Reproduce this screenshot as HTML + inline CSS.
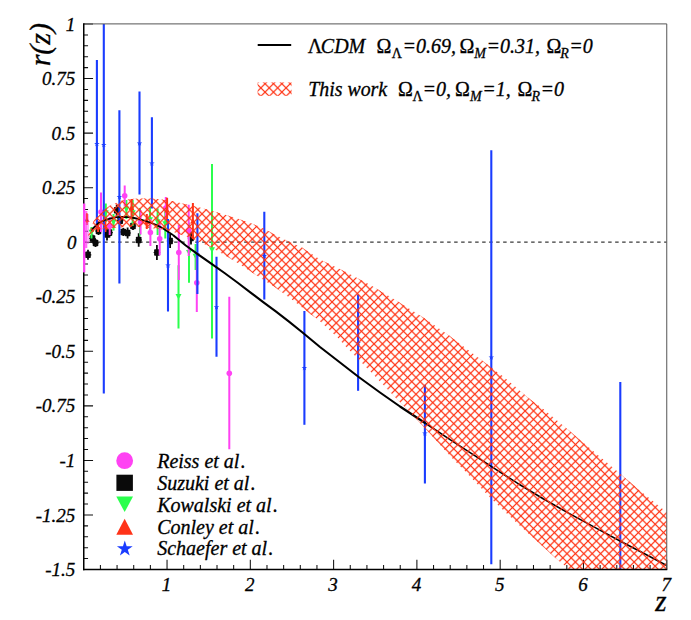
<!DOCTYPE html><html><head><meta charset="utf-8"><title>r(z)</title><style>html,body{margin:0;padding:0;background:#fff}svg{display:block}text{font-family:"Liberation Serif",serif;font-style:italic;fill:#000;stroke:#000;stroke-width:0.3px}.u{font-style:normal}</style></head><body>
<svg width="691" height="620" viewBox="0 0 691 620">
<rect width="691" height="620" fill="#fff"/>
<clipPath id="fr"><rect x="83.75" y="23.9" width="583.0" height="545.6"/></clipPath>
<g clip-path="url(#fr)">
<line x1="83.75" y1="242.2" x2="666.75" y2="242.2" stroke="#3a3a3a" stroke-width="1.3" stroke-dasharray="3.5 3.5" stroke-dashoffset="0.6"/>
<line x1="88" y1="249.8" x2="88" y2="259.8" stroke="#0a0a0a" stroke-width="1.8"/>
<line x1="84.7" y1="254.8" x2="91.3" y2="254.8" stroke="#0a0a0a" stroke-width="1.2"/>
<rect x="85.2" y="251.5" width="5.6" height="6.6" rx="0.8" fill="#0a0a0a"/>
<line x1="92.5" y1="234.5" x2="92.5" y2="242.5" stroke="#0a0a0a" stroke-width="1.8"/>
<line x1="89.2" y1="238.5" x2="95.8" y2="238.5" stroke="#0a0a0a" stroke-width="1.2"/>
<rect x="89.7" y="235.2" width="5.6" height="6.6" rx="0.8" fill="#0a0a0a"/>
<line x1="95.5" y1="239" x2="95.5" y2="247" stroke="#0a0a0a" stroke-width="1.8"/>
<line x1="92.2" y1="243" x2="98.8" y2="243" stroke="#0a0a0a" stroke-width="1.2"/>
<rect x="92.7" y="239.7" width="5.6" height="6.6" rx="0.8" fill="#0a0a0a"/>
<line x1="98.5" y1="227" x2="98.5" y2="235" stroke="#0a0a0a" stroke-width="1.8"/>
<line x1="95.2" y1="231" x2="101.8" y2="231" stroke="#0a0a0a" stroke-width="1.2"/>
<rect x="95.7" y="227.7" width="5.6" height="6.6" rx="0.8" fill="#0a0a0a"/>
<line x1="107" y1="228.5" x2="107" y2="240.5" stroke="#0a0a0a" stroke-width="1.8"/>
<line x1="103.7" y1="234.5" x2="110.3" y2="234.5" stroke="#0a0a0a" stroke-width="1.2"/>
<rect x="104.2" y="231.2" width="5.6" height="6.6" rx="0.8" fill="#0a0a0a"/>
<line x1="109.5" y1="227.6" x2="109.5" y2="237.6" stroke="#0a0a0a" stroke-width="1.8"/>
<line x1="106.2" y1="232.6" x2="112.8" y2="232.6" stroke="#0a0a0a" stroke-width="1.2"/>
<rect x="106.7" y="229.29999999999998" width="5.6" height="6.6" rx="0.8" fill="#0a0a0a"/>
<line x1="116.7" y1="204.8" x2="116.7" y2="215.8" stroke="#0a0a0a" stroke-width="1.8"/>
<line x1="113.4" y1="210.3" x2="120.0" y2="210.3" stroke="#0a0a0a" stroke-width="1.2"/>
<rect x="113.9" y="207.0" width="5.6" height="6.6" rx="0.8" fill="#0a0a0a"/>
<line x1="120.2" y1="216.7" x2="120.2" y2="224.7" stroke="#0a0a0a" stroke-width="1.8"/>
<line x1="116.9" y1="220.7" x2="123.5" y2="220.7" stroke="#0a0a0a" stroke-width="1.2"/>
<rect x="117.4" y="217.39999999999998" width="5.6" height="6.6" rx="0.8" fill="#0a0a0a"/>
<line x1="123.3" y1="228" x2="123.3" y2="236" stroke="#0a0a0a" stroke-width="1.8"/>
<line x1="120.0" y1="232" x2="126.6" y2="232" stroke="#0a0a0a" stroke-width="1.2"/>
<rect x="120.5" y="228.7" width="5.6" height="6.6" rx="0.8" fill="#0a0a0a"/>
<line x1="127.6" y1="227.5" x2="127.6" y2="238.5" stroke="#0a0a0a" stroke-width="1.8"/>
<line x1="124.3" y1="233" x2="130.9" y2="233" stroke="#0a0a0a" stroke-width="1.2"/>
<rect x="124.8" y="229.7" width="5.6" height="6.6" rx="0.8" fill="#0a0a0a"/>
<line x1="133" y1="222" x2="133" y2="230" stroke="#0a0a0a" stroke-width="1.8"/>
<line x1="129.7" y1="226" x2="136.3" y2="226" stroke="#0a0a0a" stroke-width="1.2"/>
<rect x="130.2" y="222.7" width="5.6" height="6.6" rx="0.8" fill="#0a0a0a"/>
<line x1="138.7" y1="233.3" x2="138.7" y2="246.7" stroke="#0a0a0a" stroke-width="1.8"/>
<line x1="135.39999999999998" y1="240" x2="142.0" y2="240" stroke="#0a0a0a" stroke-width="1.2"/>
<rect x="135.89999999999998" y="236.7" width="5.6" height="6.6" rx="0.8" fill="#0a0a0a"/>
<line x1="156.9" y1="245.0" x2="156.9" y2="260.0" stroke="#0a0a0a" stroke-width="1.8"/>
<line x1="153.6" y1="252.5" x2="160.20000000000002" y2="252.5" stroke="#0a0a0a" stroke-width="1.2"/>
<rect x="154.1" y="249.2" width="5.6" height="6.6" rx="0.8" fill="#0a0a0a"/>
<line x1="170.1" y1="234" x2="170.1" y2="248" stroke="#0a0a0a" stroke-width="1.8"/>
<line x1="166.79999999999998" y1="241" x2="173.4" y2="241" stroke="#0a0a0a" stroke-width="1.2"/>
<rect x="167.29999999999998" y="237.7" width="5.6" height="6.6" rx="0.8" fill="#0a0a0a"/>
<line x1="191" y1="231.5" x2="191" y2="244.5" stroke="#0a0a0a" stroke-width="1.8"/>
<line x1="187.7" y1="238" x2="194.3" y2="238" stroke="#0a0a0a" stroke-width="1.2"/>
<rect x="188.2" y="234.7" width="5.6" height="6.6" rx="0.8" fill="#0a0a0a"/>
<line x1="212" y1="164" x2="212" y2="338.5" stroke="#2bff4d" stroke-width="2.0"/>
<polygon points="209.0,247.3 215.0,247.3 212,252.7" fill="#2bff4d"/>
<line x1="178.5" y1="265.2" x2="178.5" y2="328.4" stroke="#2bff4d" stroke-width="2.0"/>
<polygon points="175.5,294.1 181.5,294.1 178.5,299.5" fill="#2bff4d"/>
<line x1="189" y1="222.5" x2="189" y2="282.7" stroke="#2bff4d" stroke-width="2.0"/>
<polygon points="186.0,249.9 192.0,249.9 189,255.29999999999998" fill="#2bff4d"/>
<line x1="195.6" y1="244" x2="195.6" y2="270" stroke="#2bff4d" stroke-width="2.0"/>
<polygon points="192.6,253.8 198.6,253.8 195.6,259.2" fill="#2bff4d"/>
<line x1="91.5" y1="227" x2="91.5" y2="238.5" stroke="#2bff4d" stroke-width="2.0"/>
<polygon points="88.5,229.8 94.5,229.8 91.5,235.2" fill="#2bff4d"/>
<line x1="105.8" y1="203.5" x2="105.8" y2="222" stroke="#2bff4d" stroke-width="2.0"/>
<polygon points="102.8,210.3 108.8,210.3 105.8,215.7" fill="#2bff4d"/>
<line x1="113.5" y1="214" x2="113.5" y2="230.5" stroke="#2bff4d" stroke-width="2.0"/>
<polygon points="110.5,219.70000000000002 116.5,219.70000000000002 113.5,225.1" fill="#2bff4d"/>
<line x1="126.4" y1="200" x2="126.4" y2="219" stroke="#2bff4d" stroke-width="2.0"/>
<polygon points="123.4,206.8 129.4,206.8 126.4,212.2" fill="#2bff4d"/>
<line x1="132.7" y1="200" x2="132.7" y2="226" stroke="#2bff4d" stroke-width="2.0"/>
<polygon points="129.7,210.3 135.7,210.3 132.7,215.7" fill="#2bff4d"/>
<line x1="140" y1="208" x2="140" y2="235.6" stroke="#2bff4d" stroke-width="2.0"/>
<polygon points="137.0,219.3 143.0,219.3 140,224.7" fill="#2bff4d"/>
<line x1="150" y1="207" x2="150" y2="234" stroke="#2bff4d" stroke-width="2.0"/>
<polygon points="147.0,217.3 153.0,217.3 150,222.7" fill="#2bff4d"/>
<line x1="157.6" y1="208.4" x2="157.6" y2="235" stroke="#2bff4d" stroke-width="2.0"/>
<polygon points="154.6,219.3 160.6,219.3 157.6,224.7" fill="#2bff4d"/>
<line x1="165.3" y1="210" x2="165.3" y2="238.4" stroke="#2bff4d" stroke-width="2.0"/>
<polygon points="162.3,221.3 168.3,221.3 165.3,226.7" fill="#2bff4d"/>
<line x1="229.3" y1="296.8" x2="229.3" y2="449.3" stroke="#ff42f3" stroke-width="2.0"/>
<circle cx="229.3" cy="373.3" r="2.8" fill="#ff42f3"/>
<line x1="196.8" y1="253.3" x2="196.8" y2="312.1" stroke="#ff42f3" stroke-width="2.0"/>
<circle cx="196.8" cy="282.7" r="2.8" fill="#ff42f3"/>
<line x1="178.8" y1="224.8" x2="178.8" y2="280" stroke="#ff42f3" stroke-width="2.0"/>
<circle cx="178.8" cy="252.5" r="2.8" fill="#ff42f3"/>
<line x1="188.7" y1="204.8" x2="188.7" y2="256" stroke="#ff42f3" stroke-width="2.0"/>
<circle cx="188.7" cy="230.6" r="2.8" fill="#ff42f3"/>
<line x1="159.7" y1="222" x2="159.7" y2="255.3" stroke="#ff42f3" stroke-width="2.0"/>
<circle cx="159.7" cy="238.8" r="2.8" fill="#ff42f3"/>
<line x1="150.4" y1="219" x2="150.4" y2="246" stroke="#ff42f3" stroke-width="2.0"/>
<circle cx="150.4" cy="232.5" r="2.8" fill="#ff42f3"/>
<line x1="140.6" y1="210" x2="140.6" y2="234.4" stroke="#ff42f3" stroke-width="2.0"/>
<circle cx="140.6" cy="222.3" r="2.8" fill="#ff42f3"/>
<line x1="124.7" y1="185.5" x2="124.7" y2="206" stroke="#ff42f3" stroke-width="2.0"/>
<circle cx="124.7" cy="195.7" r="2.8" fill="#ff42f3"/>
<line x1="109.7" y1="217" x2="109.7" y2="235" stroke="#ff42f3" stroke-width="2.0"/>
<circle cx="109.7" cy="226" r="2.8" fill="#ff42f3"/>
<line x1="101" y1="192.6" x2="101" y2="232" stroke="#ff42f3" stroke-width="2.0"/>
<circle cx="101" cy="212" r="2.8" fill="#ff42f3"/>
<line x1="165.8" y1="197" x2="165.8" y2="219.7" stroke="#ff42f3" stroke-width="2.0"/>
<circle cx="165.8" cy="208" r="2.8" fill="#ff42f3"/>
<line x1="167.1" y1="197.7" x2="167.1" y2="222" stroke="#ff3318" stroke-width="2.0"/>
<polygon points="164.29999999999998,212.52 169.9,212.52 167.1,207.48" fill="#ff3318"/>
<line x1="192.9" y1="202.9" x2="192.9" y2="239" stroke="#ff3318" stroke-width="2.0"/>
<polygon points="190.1,223.52 195.70000000000002,223.52 192.9,218.48" fill="#ff3318"/>
<line x1="131.5" y1="199" x2="131.5" y2="216.5" stroke="#ff3318" stroke-width="2.0"/>
<polygon points="128.7,210.02 134.3,210.02 131.5,204.98" fill="#ff3318"/>
<line x1="146.8" y1="214" x2="146.8" y2="229" stroke="#ff3318" stroke-width="2.0"/>
<polygon points="144.0,224.02 149.60000000000002,224.02 146.8,218.98" fill="#ff3318"/>
<line x1="98.1" y1="221" x2="98.1" y2="232" stroke="#ff3318" stroke-width="2.0"/>
<polygon points="95.3,229.52 100.89999999999999,229.52 98.1,224.48" fill="#ff3318"/>
<line x1="105.4" y1="221" x2="105.4" y2="232" stroke="#ff3318" stroke-width="2.0"/>
<polygon points="102.60000000000001,229.52 108.2,229.52 105.4,224.48" fill="#ff3318"/>
<line x1="86.8" y1="214" x2="86.8" y2="225" stroke="#ff3318" stroke-width="2.0"/>
<polygon points="84.0,222.02 89.6,222.02 86.8,216.98" fill="#ff3318"/>
<line x1="96.9" y1="59.9" x2="96.9" y2="228" stroke="#1a3cff" stroke-width="2.1"/>
<polygon points="96.90,141.00 97.55,143.00 99.66,143.00 97.95,144.24 98.60,146.25 96.90,145.01 95.20,146.25 95.85,144.24 94.14,143.00 96.25,143.00" fill="#1a3cff"/>
<line x1="103.8" y1="23.9" x2="103.8" y2="393.4" stroke="#1a3cff" stroke-width="2.1"/>
<polygon points="103.80,141.90 104.45,143.90 106.56,143.90 104.85,145.14 105.50,147.15 103.80,145.91 102.10,147.15 102.75,145.14 101.04,143.90 103.15,143.90" fill="#1a3cff"/>
<line x1="119.4" y1="110.2" x2="119.4" y2="283.4" stroke="#1a3cff" stroke-width="2.1"/>
<polygon points="119.40,194.10 120.05,196.10 122.16,196.10 120.45,197.34 121.10,199.35 119.40,198.11 117.70,199.35 118.35,197.34 116.64,196.10 118.75,196.10" fill="#1a3cff"/>
<line x1="139.5" y1="91.6" x2="139.5" y2="194.6" stroke="#1a3cff" stroke-width="2.1"/>
<polygon points="139.50,140.60 140.15,142.60 142.26,142.60 140.55,143.84 141.20,145.85 139.50,144.61 137.80,145.85 138.45,143.84 136.74,142.60 138.85,142.60" fill="#1a3cff"/>
<line x1="151.9" y1="117.3" x2="151.9" y2="208.4" stroke="#1a3cff" stroke-width="2.1"/>
<polygon points="151.90,160.40 152.55,162.40 154.66,162.40 152.95,163.64 153.60,165.65 151.90,164.41 150.20,165.65 150.85,163.64 149.14,162.40 151.25,162.40" fill="#1a3cff"/>
<line x1="168" y1="219" x2="168" y2="311.6" stroke="#1a3cff" stroke-width="2.1"/>
<polygon points="168.00,262.60 168.65,264.60 170.76,264.60 169.05,265.84 169.70,267.85 168.00,266.61 166.30,267.85 166.95,265.84 165.24,264.60 167.35,264.60" fill="#1a3cff"/>
<line x1="197.4" y1="213.2" x2="197.4" y2="293.9" stroke="#1a3cff" stroke-width="2.1"/>
<polygon points="197.40,251.60 198.05,253.60 200.16,253.60 198.45,254.84 199.10,256.85 197.40,255.61 195.70,256.85 196.35,254.84 194.64,253.60 196.75,253.60" fill="#1a3cff"/>
<line x1="216.5" y1="256.8" x2="216.5" y2="356.8" stroke="#1a3cff" stroke-width="2.1"/>
<polygon points="216.50,304.30 217.15,306.30 219.26,306.30 217.55,307.54 218.20,309.55 216.50,308.31 214.80,309.55 215.45,307.54 213.74,306.30 215.85,306.30" fill="#1a3cff"/>
<line x1="264.3" y1="211.7" x2="264.3" y2="299.5" stroke="#1a3cff" stroke-width="2.1"/>
<polygon points="264.30,253.10 264.95,255.10 267.06,255.10 265.35,256.34 266.00,258.35 264.30,257.11 262.60,258.35 263.25,256.34 261.54,255.10 263.65,255.10" fill="#1a3cff"/>
<line x1="304.4" y1="311" x2="304.4" y2="424.8" stroke="#1a3cff" stroke-width="2.1"/>
<polygon points="304.40,364.90 305.05,366.90 307.16,366.90 305.45,368.14 306.10,370.15 304.40,368.91 302.70,370.15 303.35,368.14 301.64,366.90 303.75,366.90" fill="#1a3cff"/>
<line x1="358.1" y1="294.5" x2="358.1" y2="390.8" stroke="#1a3cff" stroke-width="2.1"/>
<polygon points="358.10,340.10 358.75,342.10 360.86,342.10 359.15,343.34 359.80,345.35 358.10,344.11 356.40,345.35 357.05,343.34 355.34,342.10 357.45,342.10" fill="#1a3cff"/>
<line x1="424.9" y1="384.8" x2="424.9" y2="483.5" stroke="#1a3cff" stroke-width="2.1"/>
<polygon points="424.90,430.60 425.55,432.60 427.66,432.60 425.95,433.84 426.60,435.85 424.90,434.61 423.20,435.85 423.85,433.84 422.14,432.60 424.25,432.60" fill="#1a3cff"/>
<line x1="491.3" y1="150.2" x2="491.3" y2="564.3" stroke="#1a3cff" stroke-width="2.1"/>
<polygon points="491.30,354.40 491.95,356.40 494.06,356.40 492.35,357.64 493.00,359.65 491.30,358.41 489.60,359.65 490.25,357.64 488.54,356.40 490.65,356.40" fill="#1a3cff"/>
<line x1="620.3" y1="381.9" x2="620.3" y2="600" stroke="#1a3cff" stroke-width="2.1"/>
<polygon points="620.30,697.10 620.95,699.10 623.06,699.10 621.35,700.34 622.00,702.35 620.30,701.11 618.60,702.35 619.25,700.34 617.54,699.10 619.65,699.10" fill="#1a3cff"/>
<path d="M91.2,230.5 L92.5,229 L98.1,223.3 L105.1,220 L110.9,218.3 L116.7,217.2 L122.5,216.8 L128.3,217.1 L134.1,218 L139.9,219.3 L145.7,221 L151.4,223 L157.2,225.4 L162,227.8 L172.9,235" fill="none" stroke="#000" stroke-width="1.8" stroke-linejoin="round"/>
<path d="M172.9,235 L185.8,245.5 L198.7,254.8 L211.6,263.9 L224.5,273 L237.4,282.5 L250.3,292.3 L263.2,302.1 L276.1,311.7 L289,321.7 L301.9,332 L320,347 L340,362.5 L358.7,377 L380,392.5 L400,406.5 L425.8,423.5" fill="none" stroke="#000" stroke-width="2.1" stroke-linejoin="round"/>
<path d="M425.8,423.5 L451.6,440.6 L477.4,457.3 L491.6,466.6 L517.4,483.2 L543.2,498.8 L569,513.4 L594.8,527.4 L620,541 L645,554 L666.75,565.5" fill="none" stroke="#000" stroke-width="1.6" stroke-linejoin="round"/>
</g>
<path d="M83.75,24.00h9.3M83.75,34.91h4.3M83.75,45.82h4.3M83.75,56.73h4.3M83.75,67.64h4.3M83.75,78.55h9.3M83.75,89.46h4.3M83.75,100.37h4.3M83.75,111.28h4.3M83.75,122.19h4.3M83.75,133.10h9.3M83.75,144.01h4.3M83.75,154.92h4.3M83.75,165.83h4.3M83.75,176.74h4.3M83.75,187.65h9.3M83.75,198.56h4.3M83.75,209.47h4.3M83.75,220.38h4.3M83.75,231.29h4.3M83.75,242.20h9.3M83.75,253.11h4.3M83.75,264.02h4.3M83.75,274.93h4.3M83.75,285.84h4.3M83.75,296.75h9.3M83.75,307.66h4.3M83.75,318.57h4.3M83.75,329.48h4.3M83.75,340.39h4.3M83.75,351.30h9.3M83.75,362.21h4.3M83.75,373.12h4.3M83.75,384.03h4.3M83.75,394.94h4.3M83.75,405.85h9.3M83.75,416.76h4.3M83.75,427.67h4.3M83.75,438.58h4.3M83.75,449.49h4.3M83.75,460.40h9.3M83.75,471.31h4.3M83.75,482.22h4.3M83.75,493.13h4.3M83.75,504.04h4.3M83.75,514.95h9.3M83.75,525.86h4.3M83.75,536.77h4.3M83.75,547.68h4.3M83.75,558.59h4.3M83.75,569.50h9.3M100.41,569.5v-4.4M117.06,569.5v-4.4M133.72,569.5v-4.4M150.38,569.5v-4.4M167.04,569.5v-9.8M183.69,569.5v-4.4M200.35,569.5v-4.4M217.01,569.5v-4.4M233.66,569.5v-4.4M250.32,569.5v-9.8M266.98,569.5v-4.4M283.64,569.5v-4.4M300.29,569.5v-4.4M316.95,569.5v-4.4M333.61,569.5v-9.8M350.26,569.5v-4.4M366.92,569.5v-4.4M383.58,569.5v-4.4M400.24,569.5v-4.4M416.89,569.5v-9.8M433.55,569.5v-4.4M450.21,569.5v-4.4M466.86,569.5v-4.4M483.52,569.5v-4.4M500.18,569.5v-9.8M516.84,569.5v-4.4M533.49,569.5v-4.4M550.15,569.5v-4.4M566.81,569.5v-4.4M583.46,569.5v-9.8M600.12,569.5v-4.4M616.78,569.5v-4.4M633.44,569.5v-4.4M650.09,569.5v-4.4M666.75,569.5v-9.8" stroke="#111" stroke-width="1.05" fill="none"/>
<clipPath id="band"><polygon points="88,236 90.5,229 94.1,220 98.1,216 102.2,211.9 106.2,208.3 110.2,205.5 115.9,203 122.3,200.6 130.5,199 139.9,198.5 151.4,198.5 160,199.3 172.9,201.2 185.8,204.3 198.7,207.3 211.6,210.7 224.5,214.4 237.4,218.5 250.3,223 263.2,228.3 276.1,235.3 289,241.8 301.9,247.5 320,259.5 345.8,272 371.6,285.8 397.4,301.3 423.2,317.5 449,335.5 477.4,357.0 503.2,376.4 529,398.4 543.2,409.0 569,430.5 594.8,452.6 607.7,463.2 641.6,492 666.75,512.3 666.75,569.5 569.5,569.5 556.1,558.4 543.2,546.8 517.4,523.5 491.6,499 465.8,472 451.6,457.4 438.7,443.3 425.8,429 410.3,412.6 397.4,399.4 384.5,386 371.6,372.8 358.7,359.6 345.8,346.5 338.1,338 328.4,329 318.7,320 309,313 301.9,307.3 289,297.2 276.1,288 263.2,279.6 250.3,271.3 237.4,262.8 224.5,255 211.6,247.5 198.7,241.5 185.8,236.2 172.9,231.7 160,229 150,228 140,227 130.4,227 122.3,227.3 114.3,228 106.2,228.5 98.1,229 94.1,231 91,234 88,236"/></clipPath>
<g clip-path="url(#fr)"><g clip-path="url(#band)"><path d="M78.75,-573.00L671.75,20.00M78.75,-564.60L671.75,28.40M78.75,-556.20L671.75,36.80M78.75,-547.80L671.75,45.20M78.75,-539.40L671.75,53.60M78.75,-531.00L671.75,62.00M78.75,-522.60L671.75,70.40M78.75,-514.20L671.75,78.80M78.75,-505.80L671.75,87.20M78.75,-497.40L671.75,95.60M78.75,-489.00L671.75,104.00M78.75,-480.60L671.75,112.40M78.75,-472.20L671.75,120.80M78.75,-463.80L671.75,129.20M78.75,-455.40L671.75,137.60M78.75,-447.00L671.75,146.00M78.75,-438.60L671.75,154.40M78.75,-430.20L671.75,162.80M78.75,-421.80L671.75,171.20M78.75,-413.40L671.75,179.60M78.75,-405.00L671.75,188.00M78.75,-396.60L671.75,196.40M78.75,-388.20L671.75,204.80M78.75,-379.80L671.75,213.20M78.75,-371.40L671.75,221.60M78.75,-363.00L671.75,230.00M78.75,-354.60L671.75,238.40M78.75,-346.20L671.75,246.80M78.75,-337.80L671.75,255.20M78.75,-329.40L671.75,263.60M78.75,-321.00L671.75,272.00M78.75,-312.60L671.75,280.40M78.75,-304.20L671.75,288.80M78.75,-295.80L671.75,297.20M78.75,-287.40L671.75,305.60M78.75,-279.00L671.75,314.00M78.75,-270.60L671.75,322.40M78.75,-262.20L671.75,330.80M78.75,-253.80L671.75,339.20M78.75,-245.40L671.75,347.60M78.75,-237.00L671.75,356.00M78.75,-228.60L671.75,364.40M78.75,-220.20L671.75,372.80M78.75,-211.80L671.75,381.20M78.75,-203.40L671.75,389.60M78.75,-195.00L671.75,398.00M78.75,-186.60L671.75,406.40M78.75,-178.20L671.75,414.80M78.75,-169.80L671.75,423.20M78.75,-161.40L671.75,431.60M78.75,-153.00L671.75,440.00M78.75,-144.60L671.75,448.40M78.75,-136.20L671.75,456.80M78.75,-127.80L671.75,465.20M78.75,-119.40L671.75,473.60M78.75,-111.00L671.75,482.00M78.75,-102.60L671.75,490.40M78.75,-94.20L671.75,498.80M78.75,-85.80L671.75,507.20M78.75,-77.40L671.75,515.60M78.75,-69.00L671.75,524.00M78.75,-60.60L671.75,532.40M78.75,-52.20L671.75,540.80M78.75,-43.80L671.75,549.20M78.75,-35.40L671.75,557.60M78.75,-27.00L671.75,566.00M78.75,-18.60L671.75,574.40M78.75,-10.20L671.75,582.80M78.75,-1.80L671.75,591.20M78.75,6.60L671.75,599.60M78.75,15.00L671.75,608.00M78.75,23.40L671.75,616.40M78.75,31.80L671.75,624.80M78.75,40.20L671.75,633.20M78.75,48.60L671.75,641.60M78.75,57.00L671.75,650.00M78.75,65.40L671.75,658.40M78.75,73.80L671.75,666.80M78.75,82.20L671.75,675.20M78.75,90.60L671.75,683.60M78.75,99.00L671.75,692.00M78.75,107.40L671.75,700.40M78.75,115.80L671.75,708.80M78.75,124.20L671.75,717.20M78.75,132.60L671.75,725.60M78.75,141.00L671.75,734.00M78.75,149.40L671.75,742.40M78.75,157.80L671.75,750.80M78.75,166.20L671.75,759.20M78.75,174.60L671.75,767.60M78.75,183.00L671.75,776.00M78.75,191.40L671.75,784.40M78.75,199.80L671.75,792.80M78.75,208.20L671.75,801.20M78.75,216.60L671.75,809.60M78.75,225.00L671.75,818.00M78.75,233.40L671.75,826.40M78.75,241.80L671.75,834.80M78.75,250.20L671.75,843.20M78.75,258.60L671.75,851.60M78.75,267.00L671.75,860.00M78.75,275.40L671.75,868.40M78.75,283.80L671.75,876.80M78.75,292.20L671.75,885.20M78.75,300.60L671.75,893.60M78.75,309.00L671.75,902.00M78.75,317.40L671.75,910.40M78.75,325.80L671.75,918.80M78.75,334.20L671.75,927.20M78.75,342.60L671.75,935.60M78.75,351.00L671.75,944.00M78.75,359.40L671.75,952.40M78.75,367.80L671.75,960.80M78.75,376.20L671.75,969.20M78.75,384.60L671.75,977.60M78.75,393.00L671.75,986.00M78.75,401.40L671.75,994.40M78.75,409.80L671.75,1002.80M78.75,418.20L671.75,1011.20M78.75,426.60L671.75,1019.60M78.75,435.00L671.75,1028.00M78.75,443.40L671.75,1036.40M78.75,451.80L671.75,1044.80M78.75,460.20L671.75,1053.20M78.75,468.60L671.75,1061.60M78.75,477.00L671.75,1070.00M78.75,485.40L671.75,1078.40M78.75,493.80L671.75,1086.80M78.75,502.20L671.75,1095.20M78.75,510.60L671.75,1103.60M78.75,519.00L671.75,1112.00M78.75,527.40L671.75,1120.40M78.75,535.80L671.75,1128.80M78.75,544.20L671.75,1137.20M78.75,552.60L671.75,1145.60M78.75,561.00L671.75,1154.00M78.75,569.40L671.75,1162.40M78.75,577.80L671.75,1170.80M78.75,586.20L671.75,1179.20" fill="none" stroke="#ff3010" stroke-width="1.9" stroke-opacity="0.42"/><path d="M78.75,9.93L671.75,-583.07M78.75,18.32L671.75,-574.68M78.75,26.71L671.75,-566.29M78.75,35.10L671.75,-557.90M78.75,43.49L671.75,-549.51M78.75,51.88L671.75,-541.12M78.75,60.27L671.75,-532.73M78.75,68.66L671.75,-524.34M78.75,77.05L671.75,-515.95M78.75,85.44L671.75,-507.56M78.75,93.83L671.75,-499.17M78.75,102.22L671.75,-490.78M78.75,110.61L671.75,-482.39M78.75,119.00L671.75,-474.00M78.75,127.39L671.75,-465.61M78.75,135.78L671.75,-457.22M78.75,144.17L671.75,-448.83M78.75,152.56L671.75,-440.44M78.75,160.95L671.75,-432.05M78.75,169.34L671.75,-423.66M78.75,177.73L671.75,-415.27M78.75,186.12L671.75,-406.88M78.75,194.51L671.75,-398.49M78.75,202.90L671.75,-390.10M78.75,211.29L671.75,-381.71M78.75,219.68L671.75,-373.32M78.75,228.07L671.75,-364.93M78.75,236.46L671.75,-356.54M78.75,244.85L671.75,-348.15M78.75,253.24L671.75,-339.76M78.75,261.63L671.75,-331.37M78.75,270.02L671.75,-322.98M78.75,278.41L671.75,-314.59M78.75,286.80L671.75,-306.20M78.75,295.19L671.75,-297.81M78.75,303.58L671.75,-289.42M78.75,311.97L671.75,-281.03M78.75,320.36L671.75,-272.64M78.75,328.75L671.75,-264.25M78.75,337.14L671.75,-255.86M78.75,345.53L671.75,-247.47M78.75,353.92L671.75,-239.08M78.75,362.31L671.75,-230.69M78.75,370.70L671.75,-222.30M78.75,379.09L671.75,-213.91M78.75,387.48L671.75,-205.52M78.75,395.87L671.75,-197.13M78.75,404.26L671.75,-188.74M78.75,412.65L671.75,-180.35M78.75,421.04L671.75,-171.96M78.75,429.43L671.75,-163.57M78.75,437.82L671.75,-155.18M78.75,446.21L671.75,-146.79M78.75,454.60L671.75,-138.40M78.75,462.99L671.75,-130.01M78.75,471.38L671.75,-121.62M78.75,479.77L671.75,-113.23M78.75,488.16L671.75,-104.84M78.75,496.55L671.75,-96.45M78.75,504.94L671.75,-88.06M78.75,513.33L671.75,-79.67M78.75,521.72L671.75,-71.28M78.75,530.11L671.75,-62.89M78.75,538.50L671.75,-54.50M78.75,546.89L671.75,-46.11M78.75,555.28L671.75,-37.72M78.75,563.67L671.75,-29.33M78.75,572.06L671.75,-20.94M78.75,580.45L671.75,-12.55M78.75,588.84L671.75,-4.16M78.75,597.23L671.75,4.23M78.75,605.62L671.75,12.62M78.75,614.01L671.75,21.01M78.75,622.40L671.75,29.40M78.75,630.79L671.75,37.79M78.75,639.18L671.75,46.18M78.75,647.57L671.75,54.57M78.75,655.96L671.75,62.96M78.75,664.35L671.75,71.35M78.75,672.74L671.75,79.74M78.75,681.13L671.75,88.13M78.75,689.52L671.75,96.52M78.75,697.91L671.75,104.91M78.75,706.30L671.75,113.30M78.75,714.69L671.75,121.69M78.75,723.08L671.75,130.08M78.75,731.47L671.75,138.47M78.75,739.86L671.75,146.86M78.75,748.25L671.75,155.25M78.75,756.64L671.75,163.64M78.75,765.03L671.75,172.03M78.75,773.42L671.75,180.42M78.75,781.81L671.75,188.81M78.75,790.20L671.75,197.20M78.75,798.59L671.75,205.59M78.75,806.98L671.75,213.98M78.75,815.37L671.75,222.37M78.75,823.76L671.75,230.76M78.75,832.15L671.75,239.15M78.75,840.54L671.75,247.54M78.75,848.93L671.75,255.93M78.75,857.32L671.75,264.32M78.75,865.71L671.75,272.71M78.75,874.10L671.75,281.10M78.75,882.49L671.75,289.49M78.75,890.88L671.75,297.88M78.75,899.27L671.75,306.27M78.75,907.66L671.75,314.66M78.75,916.05L671.75,323.05M78.75,924.44L671.75,331.44M78.75,932.83L671.75,339.83M78.75,941.22L671.75,348.22M78.75,949.61L671.75,356.61M78.75,958.00L671.75,365.00M78.75,966.39L671.75,373.39M78.75,974.78L671.75,381.78M78.75,983.17L671.75,390.17M78.75,991.56L671.75,398.56M78.75,999.95L671.75,406.95M78.75,1008.34L671.75,415.34M78.75,1016.73L671.75,423.73M78.75,1025.12L671.75,432.12M78.75,1033.51L671.75,440.51M78.75,1041.90L671.75,448.90M78.75,1050.29L671.75,457.29M78.75,1058.68L671.75,465.68M78.75,1067.07L671.75,474.07M78.75,1075.46L671.75,482.46M78.75,1083.85L671.75,490.85M78.75,1092.24L671.75,499.24M78.75,1100.63L671.75,507.63M78.75,1109.02L671.75,516.02M78.75,1117.41L671.75,524.41M78.75,1125.80L671.75,532.80M78.75,1134.19L671.75,541.19M78.75,1142.58L671.75,549.58M78.75,1150.97L671.75,557.97M78.75,1159.36L671.75,566.36M78.75,1167.75L671.75,574.75M78.75,1176.14L671.75,583.14" fill="none" stroke="#ff3010" stroke-width="1.9" stroke-opacity="0.42"/><path d="M78.75,-573.00L671.75,20.00M78.75,-564.60L671.75,28.40M78.75,-556.20L671.75,36.80M78.75,-547.80L671.75,45.20M78.75,-539.40L671.75,53.60M78.75,-531.00L671.75,62.00M78.75,-522.60L671.75,70.40M78.75,-514.20L671.75,78.80M78.75,-505.80L671.75,87.20M78.75,-497.40L671.75,95.60M78.75,-489.00L671.75,104.00M78.75,-480.60L671.75,112.40M78.75,-472.20L671.75,120.80M78.75,-463.80L671.75,129.20M78.75,-455.40L671.75,137.60M78.75,-447.00L671.75,146.00M78.75,-438.60L671.75,154.40M78.75,-430.20L671.75,162.80M78.75,-421.80L671.75,171.20M78.75,-413.40L671.75,179.60M78.75,-405.00L671.75,188.00M78.75,-396.60L671.75,196.40M78.75,-388.20L671.75,204.80M78.75,-379.80L671.75,213.20M78.75,-371.40L671.75,221.60M78.75,-363.00L671.75,230.00M78.75,-354.60L671.75,238.40M78.75,-346.20L671.75,246.80M78.75,-337.80L671.75,255.20M78.75,-329.40L671.75,263.60M78.75,-321.00L671.75,272.00M78.75,-312.60L671.75,280.40M78.75,-304.20L671.75,288.80M78.75,-295.80L671.75,297.20M78.75,-287.40L671.75,305.60M78.75,-279.00L671.75,314.00M78.75,-270.60L671.75,322.40M78.75,-262.20L671.75,330.80M78.75,-253.80L671.75,339.20M78.75,-245.40L671.75,347.60M78.75,-237.00L671.75,356.00M78.75,-228.60L671.75,364.40M78.75,-220.20L671.75,372.80M78.75,-211.80L671.75,381.20M78.75,-203.40L671.75,389.60M78.75,-195.00L671.75,398.00M78.75,-186.60L671.75,406.40M78.75,-178.20L671.75,414.80M78.75,-169.80L671.75,423.20M78.75,-161.40L671.75,431.60M78.75,-153.00L671.75,440.00M78.75,-144.60L671.75,448.40M78.75,-136.20L671.75,456.80M78.75,-127.80L671.75,465.20M78.75,-119.40L671.75,473.60M78.75,-111.00L671.75,482.00M78.75,-102.60L671.75,490.40M78.75,-94.20L671.75,498.80M78.75,-85.80L671.75,507.20M78.75,-77.40L671.75,515.60M78.75,-69.00L671.75,524.00M78.75,-60.60L671.75,532.40M78.75,-52.20L671.75,540.80M78.75,-43.80L671.75,549.20M78.75,-35.40L671.75,557.60M78.75,-27.00L671.75,566.00M78.75,-18.60L671.75,574.40M78.75,-10.20L671.75,582.80M78.75,-1.80L671.75,591.20M78.75,6.60L671.75,599.60M78.75,15.00L671.75,608.00M78.75,23.40L671.75,616.40M78.75,31.80L671.75,624.80M78.75,40.20L671.75,633.20M78.75,48.60L671.75,641.60M78.75,57.00L671.75,650.00M78.75,65.40L671.75,658.40M78.75,73.80L671.75,666.80M78.75,82.20L671.75,675.20M78.75,90.60L671.75,683.60M78.75,99.00L671.75,692.00M78.75,107.40L671.75,700.40M78.75,115.80L671.75,708.80M78.75,124.20L671.75,717.20M78.75,132.60L671.75,725.60M78.75,141.00L671.75,734.00M78.75,149.40L671.75,742.40M78.75,157.80L671.75,750.80M78.75,166.20L671.75,759.20M78.75,174.60L671.75,767.60M78.75,183.00L671.75,776.00M78.75,191.40L671.75,784.40M78.75,199.80L671.75,792.80M78.75,208.20L671.75,801.20M78.75,216.60L671.75,809.60M78.75,225.00L671.75,818.00M78.75,233.40L671.75,826.40M78.75,241.80L671.75,834.80M78.75,250.20L671.75,843.20M78.75,258.60L671.75,851.60M78.75,267.00L671.75,860.00M78.75,275.40L671.75,868.40M78.75,283.80L671.75,876.80M78.75,292.20L671.75,885.20M78.75,300.60L671.75,893.60M78.75,309.00L671.75,902.00M78.75,317.40L671.75,910.40M78.75,325.80L671.75,918.80M78.75,334.20L671.75,927.20M78.75,342.60L671.75,935.60M78.75,351.00L671.75,944.00M78.75,359.40L671.75,952.40M78.75,367.80L671.75,960.80M78.75,376.20L671.75,969.20M78.75,384.60L671.75,977.60M78.75,393.00L671.75,986.00M78.75,401.40L671.75,994.40M78.75,409.80L671.75,1002.80M78.75,418.20L671.75,1011.20M78.75,426.60L671.75,1019.60M78.75,435.00L671.75,1028.00M78.75,443.40L671.75,1036.40M78.75,451.80L671.75,1044.80M78.75,460.20L671.75,1053.20M78.75,468.60L671.75,1061.60M78.75,477.00L671.75,1070.00M78.75,485.40L671.75,1078.40M78.75,493.80L671.75,1086.80M78.75,502.20L671.75,1095.20M78.75,510.60L671.75,1103.60M78.75,519.00L671.75,1112.00M78.75,527.40L671.75,1120.40M78.75,535.80L671.75,1128.80M78.75,544.20L671.75,1137.20M78.75,552.60L671.75,1145.60M78.75,561.00L671.75,1154.00M78.75,569.40L671.75,1162.40M78.75,577.80L671.75,1170.80M78.75,586.20L671.75,1179.20" fill="none" stroke="#ff3515" stroke-width="0.95"/><path d="M78.75,9.93L671.75,-583.07M78.75,18.32L671.75,-574.68M78.75,26.71L671.75,-566.29M78.75,35.10L671.75,-557.90M78.75,43.49L671.75,-549.51M78.75,51.88L671.75,-541.12M78.75,60.27L671.75,-532.73M78.75,68.66L671.75,-524.34M78.75,77.05L671.75,-515.95M78.75,85.44L671.75,-507.56M78.75,93.83L671.75,-499.17M78.75,102.22L671.75,-490.78M78.75,110.61L671.75,-482.39M78.75,119.00L671.75,-474.00M78.75,127.39L671.75,-465.61M78.75,135.78L671.75,-457.22M78.75,144.17L671.75,-448.83M78.75,152.56L671.75,-440.44M78.75,160.95L671.75,-432.05M78.75,169.34L671.75,-423.66M78.75,177.73L671.75,-415.27M78.75,186.12L671.75,-406.88M78.75,194.51L671.75,-398.49M78.75,202.90L671.75,-390.10M78.75,211.29L671.75,-381.71M78.75,219.68L671.75,-373.32M78.75,228.07L671.75,-364.93M78.75,236.46L671.75,-356.54M78.75,244.85L671.75,-348.15M78.75,253.24L671.75,-339.76M78.75,261.63L671.75,-331.37M78.75,270.02L671.75,-322.98M78.75,278.41L671.75,-314.59M78.75,286.80L671.75,-306.20M78.75,295.19L671.75,-297.81M78.75,303.58L671.75,-289.42M78.75,311.97L671.75,-281.03M78.75,320.36L671.75,-272.64M78.75,328.75L671.75,-264.25M78.75,337.14L671.75,-255.86M78.75,345.53L671.75,-247.47M78.75,353.92L671.75,-239.08M78.75,362.31L671.75,-230.69M78.75,370.70L671.75,-222.30M78.75,379.09L671.75,-213.91M78.75,387.48L671.75,-205.52M78.75,395.87L671.75,-197.13M78.75,404.26L671.75,-188.74M78.75,412.65L671.75,-180.35M78.75,421.04L671.75,-171.96M78.75,429.43L671.75,-163.57M78.75,437.82L671.75,-155.18M78.75,446.21L671.75,-146.79M78.75,454.60L671.75,-138.40M78.75,462.99L671.75,-130.01M78.75,471.38L671.75,-121.62M78.75,479.77L671.75,-113.23M78.75,488.16L671.75,-104.84M78.75,496.55L671.75,-96.45M78.75,504.94L671.75,-88.06M78.75,513.33L671.75,-79.67M78.75,521.72L671.75,-71.28M78.75,530.11L671.75,-62.89M78.75,538.50L671.75,-54.50M78.75,546.89L671.75,-46.11M78.75,555.28L671.75,-37.72M78.75,563.67L671.75,-29.33M78.75,572.06L671.75,-20.94M78.75,580.45L671.75,-12.55M78.75,588.84L671.75,-4.16M78.75,597.23L671.75,4.23M78.75,605.62L671.75,12.62M78.75,614.01L671.75,21.01M78.75,622.40L671.75,29.40M78.75,630.79L671.75,37.79M78.75,639.18L671.75,46.18M78.75,647.57L671.75,54.57M78.75,655.96L671.75,62.96M78.75,664.35L671.75,71.35M78.75,672.74L671.75,79.74M78.75,681.13L671.75,88.13M78.75,689.52L671.75,96.52M78.75,697.91L671.75,104.91M78.75,706.30L671.75,113.30M78.75,714.69L671.75,121.69M78.75,723.08L671.75,130.08M78.75,731.47L671.75,138.47M78.75,739.86L671.75,146.86M78.75,748.25L671.75,155.25M78.75,756.64L671.75,163.64M78.75,765.03L671.75,172.03M78.75,773.42L671.75,180.42M78.75,781.81L671.75,188.81M78.75,790.20L671.75,197.20M78.75,798.59L671.75,205.59M78.75,806.98L671.75,213.98M78.75,815.37L671.75,222.37M78.75,823.76L671.75,230.76M78.75,832.15L671.75,239.15M78.75,840.54L671.75,247.54M78.75,848.93L671.75,255.93M78.75,857.32L671.75,264.32M78.75,865.71L671.75,272.71M78.75,874.10L671.75,281.10M78.75,882.49L671.75,289.49M78.75,890.88L671.75,297.88M78.75,899.27L671.75,306.27M78.75,907.66L671.75,314.66M78.75,916.05L671.75,323.05M78.75,924.44L671.75,331.44M78.75,932.83L671.75,339.83M78.75,941.22L671.75,348.22M78.75,949.61L671.75,356.61M78.75,958.00L671.75,365.00M78.75,966.39L671.75,373.39M78.75,974.78L671.75,381.78M78.75,983.17L671.75,390.17M78.75,991.56L671.75,398.56M78.75,999.95L671.75,406.95M78.75,1008.34L671.75,415.34M78.75,1016.73L671.75,423.73M78.75,1025.12L671.75,432.12M78.75,1033.51L671.75,440.51M78.75,1041.90L671.75,448.90M78.75,1050.29L671.75,457.29M78.75,1058.68L671.75,465.68M78.75,1067.07L671.75,474.07M78.75,1075.46L671.75,482.46M78.75,1083.85L671.75,490.85M78.75,1092.24L671.75,499.24M78.75,1100.63L671.75,507.63M78.75,1109.02L671.75,516.02M78.75,1117.41L671.75,524.41M78.75,1125.80L671.75,532.80M78.75,1134.19L671.75,541.19M78.75,1142.58L671.75,549.58M78.75,1150.97L671.75,557.97M78.75,1159.36L671.75,566.36M78.75,1167.75L671.75,574.75M78.75,1176.14L671.75,583.14" fill="none" stroke="#ff3515" stroke-width="0.95"/></g></g>
<line x1="83.75" y1="23.9" x2="666.75" y2="23.9" stroke="#555" stroke-width="1"/>
<line x1="666.75" y1="23.9" x2="666.75" y2="569.5" stroke="#555" stroke-width="1"/>
<line x1="83.75" y1="23.2" x2="83.75" y2="570.2" stroke="#000" stroke-width="1.5"/>
<line x1="83.05" y1="569.5" x2="667.25" y2="569.5" stroke="#000" stroke-width="1.5"/>
<rect x="85.2" y="211" width="2.1" height="37" fill="#ff42f3" opacity="0.75"/>
<rect x="87.3" y="214" width="1.7" height="30" fill="#ff42f3" opacity="0.45"/>
<rect x="86.2" y="213" width="1.4" height="9.5" fill="#ff3318" opacity="0.8"/>
<rect x="83.0" y="203.5" width="2.3" height="68.9" fill="#ff42f3"/>
<text x="75.3" y="30.5" font-size="19" text-anchor="end">1</text>
<text x="75.3" y="85.1" font-size="19" text-anchor="end">0.75</text>
<text x="75.3" y="139.6" font-size="19" text-anchor="end">0.5</text>
<text x="75.3" y="194.1" font-size="19" text-anchor="end">0.25</text>
<text x="76.6" y="248.7" font-size="19" text-anchor="end">0</text>
<text x="75.3" y="303.2" font-size="19" text-anchor="end">-0.25</text>
<text x="75.3" y="357.8" font-size="19" text-anchor="end">-0.5</text>
<text x="75.3" y="412.3" font-size="19" text-anchor="end">-0.75</text>
<text x="75.3" y="466.9" font-size="19" text-anchor="end">-1</text>
<text x="75.3" y="521.5" font-size="19" text-anchor="end">-1.25</text>
<text x="75.3" y="576.0" font-size="19" text-anchor="end">-1.5</text>
<text x="166.5" y="590.8" font-size="19" text-anchor="middle">1</text>
<text x="249.8" y="590.8" font-size="19" text-anchor="middle">2</text>
<text x="333.1" y="590.8" font-size="19" text-anchor="middle">3</text>
<text x="416.4" y="590.8" font-size="19" text-anchor="middle">4</text>
<text x="499.7" y="590.8" font-size="19" text-anchor="middle">5</text>
<text x="583.0" y="590.8" font-size="19" text-anchor="middle">6</text>
<text x="666.2" y="590.8" font-size="19" text-anchor="middle">7</text>
<text x="666.5" y="610.6" font-size="29" text-anchor="end" stroke="none">z</text>
<text transform="translate(50,66.3) rotate(-90)" font-size="30" stroke-width="0.15">r(z)</text>
<line x1="257.7" y1="45.1" x2="291.2" y2="45.1" stroke="#000" stroke-width="2"/>
<clipPath id="lg"><rect x="257.7" y="82.4" width="33.8" height="13.4"/></clipPath>
<g clip-path="url(#lg)"><path d="M78.75,-573.00L671.75,20.00M78.75,-564.60L671.75,28.40M78.75,-556.20L671.75,36.80M78.75,-547.80L671.75,45.20M78.75,-539.40L671.75,53.60M78.75,-531.00L671.75,62.00M78.75,-522.60L671.75,70.40M78.75,-514.20L671.75,78.80M78.75,-505.80L671.75,87.20M78.75,-497.40L671.75,95.60M78.75,-489.00L671.75,104.00M78.75,-480.60L671.75,112.40M78.75,-472.20L671.75,120.80M78.75,-463.80L671.75,129.20M78.75,-455.40L671.75,137.60M78.75,-447.00L671.75,146.00M78.75,-438.60L671.75,154.40M78.75,-430.20L671.75,162.80M78.75,-421.80L671.75,171.20M78.75,-413.40L671.75,179.60M78.75,-405.00L671.75,188.00M78.75,-396.60L671.75,196.40M78.75,-388.20L671.75,204.80M78.75,-379.80L671.75,213.20M78.75,-371.40L671.75,221.60M78.75,-363.00L671.75,230.00M78.75,-354.60L671.75,238.40M78.75,-346.20L671.75,246.80M78.75,-337.80L671.75,255.20M78.75,-329.40L671.75,263.60M78.75,-321.00L671.75,272.00M78.75,-312.60L671.75,280.40M78.75,-304.20L671.75,288.80M78.75,-295.80L671.75,297.20M78.75,-287.40L671.75,305.60M78.75,-279.00L671.75,314.00M78.75,-270.60L671.75,322.40M78.75,-262.20L671.75,330.80M78.75,-253.80L671.75,339.20M78.75,-245.40L671.75,347.60M78.75,-237.00L671.75,356.00M78.75,-228.60L671.75,364.40M78.75,-220.20L671.75,372.80M78.75,-211.80L671.75,381.20M78.75,-203.40L671.75,389.60M78.75,-195.00L671.75,398.00M78.75,-186.60L671.75,406.40M78.75,-178.20L671.75,414.80M78.75,-169.80L671.75,423.20M78.75,-161.40L671.75,431.60M78.75,-153.00L671.75,440.00M78.75,-144.60L671.75,448.40M78.75,-136.20L671.75,456.80M78.75,-127.80L671.75,465.20M78.75,-119.40L671.75,473.60M78.75,-111.00L671.75,482.00M78.75,-102.60L671.75,490.40M78.75,-94.20L671.75,498.80M78.75,-85.80L671.75,507.20M78.75,-77.40L671.75,515.60M78.75,-69.00L671.75,524.00M78.75,-60.60L671.75,532.40M78.75,-52.20L671.75,540.80M78.75,-43.80L671.75,549.20M78.75,-35.40L671.75,557.60M78.75,-27.00L671.75,566.00M78.75,-18.60L671.75,574.40M78.75,-10.20L671.75,582.80M78.75,-1.80L671.75,591.20M78.75,6.60L671.75,599.60M78.75,15.00L671.75,608.00M78.75,23.40L671.75,616.40M78.75,31.80L671.75,624.80M78.75,40.20L671.75,633.20M78.75,48.60L671.75,641.60M78.75,57.00L671.75,650.00M78.75,65.40L671.75,658.40M78.75,73.80L671.75,666.80M78.75,82.20L671.75,675.20M78.75,90.60L671.75,683.60M78.75,99.00L671.75,692.00M78.75,107.40L671.75,700.40M78.75,115.80L671.75,708.80M78.75,124.20L671.75,717.20M78.75,132.60L671.75,725.60M78.75,141.00L671.75,734.00M78.75,149.40L671.75,742.40M78.75,157.80L671.75,750.80M78.75,166.20L671.75,759.20M78.75,174.60L671.75,767.60M78.75,183.00L671.75,776.00M78.75,191.40L671.75,784.40M78.75,199.80L671.75,792.80M78.75,208.20L671.75,801.20M78.75,216.60L671.75,809.60M78.75,225.00L671.75,818.00M78.75,233.40L671.75,826.40M78.75,241.80L671.75,834.80M78.75,250.20L671.75,843.20M78.75,258.60L671.75,851.60M78.75,267.00L671.75,860.00M78.75,275.40L671.75,868.40M78.75,283.80L671.75,876.80M78.75,292.20L671.75,885.20M78.75,300.60L671.75,893.60M78.75,309.00L671.75,902.00M78.75,317.40L671.75,910.40M78.75,325.80L671.75,918.80M78.75,334.20L671.75,927.20M78.75,342.60L671.75,935.60M78.75,351.00L671.75,944.00M78.75,359.40L671.75,952.40M78.75,367.80L671.75,960.80M78.75,376.20L671.75,969.20M78.75,384.60L671.75,977.60M78.75,393.00L671.75,986.00M78.75,401.40L671.75,994.40M78.75,409.80L671.75,1002.80M78.75,418.20L671.75,1011.20M78.75,426.60L671.75,1019.60M78.75,435.00L671.75,1028.00M78.75,443.40L671.75,1036.40M78.75,451.80L671.75,1044.80M78.75,460.20L671.75,1053.20M78.75,468.60L671.75,1061.60M78.75,477.00L671.75,1070.00M78.75,485.40L671.75,1078.40M78.75,493.80L671.75,1086.80M78.75,502.20L671.75,1095.20M78.75,510.60L671.75,1103.60M78.75,519.00L671.75,1112.00M78.75,527.40L671.75,1120.40M78.75,535.80L671.75,1128.80M78.75,544.20L671.75,1137.20M78.75,552.60L671.75,1145.60M78.75,561.00L671.75,1154.00M78.75,569.40L671.75,1162.40M78.75,577.80L671.75,1170.80M78.75,586.20L671.75,1179.20" fill="none" stroke="#ff3010" stroke-width="1.9" stroke-opacity="0.42"/><path d="M78.75,9.93L671.75,-583.07M78.75,18.32L671.75,-574.68M78.75,26.71L671.75,-566.29M78.75,35.10L671.75,-557.90M78.75,43.49L671.75,-549.51M78.75,51.88L671.75,-541.12M78.75,60.27L671.75,-532.73M78.75,68.66L671.75,-524.34M78.75,77.05L671.75,-515.95M78.75,85.44L671.75,-507.56M78.75,93.83L671.75,-499.17M78.75,102.22L671.75,-490.78M78.75,110.61L671.75,-482.39M78.75,119.00L671.75,-474.00M78.75,127.39L671.75,-465.61M78.75,135.78L671.75,-457.22M78.75,144.17L671.75,-448.83M78.75,152.56L671.75,-440.44M78.75,160.95L671.75,-432.05M78.75,169.34L671.75,-423.66M78.75,177.73L671.75,-415.27M78.75,186.12L671.75,-406.88M78.75,194.51L671.75,-398.49M78.75,202.90L671.75,-390.10M78.75,211.29L671.75,-381.71M78.75,219.68L671.75,-373.32M78.75,228.07L671.75,-364.93M78.75,236.46L671.75,-356.54M78.75,244.85L671.75,-348.15M78.75,253.24L671.75,-339.76M78.75,261.63L671.75,-331.37M78.75,270.02L671.75,-322.98M78.75,278.41L671.75,-314.59M78.75,286.80L671.75,-306.20M78.75,295.19L671.75,-297.81M78.75,303.58L671.75,-289.42M78.75,311.97L671.75,-281.03M78.75,320.36L671.75,-272.64M78.75,328.75L671.75,-264.25M78.75,337.14L671.75,-255.86M78.75,345.53L671.75,-247.47M78.75,353.92L671.75,-239.08M78.75,362.31L671.75,-230.69M78.75,370.70L671.75,-222.30M78.75,379.09L671.75,-213.91M78.75,387.48L671.75,-205.52M78.75,395.87L671.75,-197.13M78.75,404.26L671.75,-188.74M78.75,412.65L671.75,-180.35M78.75,421.04L671.75,-171.96M78.75,429.43L671.75,-163.57M78.75,437.82L671.75,-155.18M78.75,446.21L671.75,-146.79M78.75,454.60L671.75,-138.40M78.75,462.99L671.75,-130.01M78.75,471.38L671.75,-121.62M78.75,479.77L671.75,-113.23M78.75,488.16L671.75,-104.84M78.75,496.55L671.75,-96.45M78.75,504.94L671.75,-88.06M78.75,513.33L671.75,-79.67M78.75,521.72L671.75,-71.28M78.75,530.11L671.75,-62.89M78.75,538.50L671.75,-54.50M78.75,546.89L671.75,-46.11M78.75,555.28L671.75,-37.72M78.75,563.67L671.75,-29.33M78.75,572.06L671.75,-20.94M78.75,580.45L671.75,-12.55M78.75,588.84L671.75,-4.16M78.75,597.23L671.75,4.23M78.75,605.62L671.75,12.62M78.75,614.01L671.75,21.01M78.75,622.40L671.75,29.40M78.75,630.79L671.75,37.79M78.75,639.18L671.75,46.18M78.75,647.57L671.75,54.57M78.75,655.96L671.75,62.96M78.75,664.35L671.75,71.35M78.75,672.74L671.75,79.74M78.75,681.13L671.75,88.13M78.75,689.52L671.75,96.52M78.75,697.91L671.75,104.91M78.75,706.30L671.75,113.30M78.75,714.69L671.75,121.69M78.75,723.08L671.75,130.08M78.75,731.47L671.75,138.47M78.75,739.86L671.75,146.86M78.75,748.25L671.75,155.25M78.75,756.64L671.75,163.64M78.75,765.03L671.75,172.03M78.75,773.42L671.75,180.42M78.75,781.81L671.75,188.81M78.75,790.20L671.75,197.20M78.75,798.59L671.75,205.59M78.75,806.98L671.75,213.98M78.75,815.37L671.75,222.37M78.75,823.76L671.75,230.76M78.75,832.15L671.75,239.15M78.75,840.54L671.75,247.54M78.75,848.93L671.75,255.93M78.75,857.32L671.75,264.32M78.75,865.71L671.75,272.71M78.75,874.10L671.75,281.10M78.75,882.49L671.75,289.49M78.75,890.88L671.75,297.88M78.75,899.27L671.75,306.27M78.75,907.66L671.75,314.66M78.75,916.05L671.75,323.05M78.75,924.44L671.75,331.44M78.75,932.83L671.75,339.83M78.75,941.22L671.75,348.22M78.75,949.61L671.75,356.61M78.75,958.00L671.75,365.00M78.75,966.39L671.75,373.39M78.75,974.78L671.75,381.78M78.75,983.17L671.75,390.17M78.75,991.56L671.75,398.56M78.75,999.95L671.75,406.95M78.75,1008.34L671.75,415.34M78.75,1016.73L671.75,423.73M78.75,1025.12L671.75,432.12M78.75,1033.51L671.75,440.51M78.75,1041.90L671.75,448.90M78.75,1050.29L671.75,457.29M78.75,1058.68L671.75,465.68M78.75,1067.07L671.75,474.07M78.75,1075.46L671.75,482.46M78.75,1083.85L671.75,490.85M78.75,1092.24L671.75,499.24M78.75,1100.63L671.75,507.63M78.75,1109.02L671.75,516.02M78.75,1117.41L671.75,524.41M78.75,1125.80L671.75,532.80M78.75,1134.19L671.75,541.19M78.75,1142.58L671.75,549.58M78.75,1150.97L671.75,557.97M78.75,1159.36L671.75,566.36M78.75,1167.75L671.75,574.75M78.75,1176.14L671.75,583.14" fill="none" stroke="#ff3010" stroke-width="1.9" stroke-opacity="0.42"/><path d="M78.75,-573.00L671.75,20.00M78.75,-564.60L671.75,28.40M78.75,-556.20L671.75,36.80M78.75,-547.80L671.75,45.20M78.75,-539.40L671.75,53.60M78.75,-531.00L671.75,62.00M78.75,-522.60L671.75,70.40M78.75,-514.20L671.75,78.80M78.75,-505.80L671.75,87.20M78.75,-497.40L671.75,95.60M78.75,-489.00L671.75,104.00M78.75,-480.60L671.75,112.40M78.75,-472.20L671.75,120.80M78.75,-463.80L671.75,129.20M78.75,-455.40L671.75,137.60M78.75,-447.00L671.75,146.00M78.75,-438.60L671.75,154.40M78.75,-430.20L671.75,162.80M78.75,-421.80L671.75,171.20M78.75,-413.40L671.75,179.60M78.75,-405.00L671.75,188.00M78.75,-396.60L671.75,196.40M78.75,-388.20L671.75,204.80M78.75,-379.80L671.75,213.20M78.75,-371.40L671.75,221.60M78.75,-363.00L671.75,230.00M78.75,-354.60L671.75,238.40M78.75,-346.20L671.75,246.80M78.75,-337.80L671.75,255.20M78.75,-329.40L671.75,263.60M78.75,-321.00L671.75,272.00M78.75,-312.60L671.75,280.40M78.75,-304.20L671.75,288.80M78.75,-295.80L671.75,297.20M78.75,-287.40L671.75,305.60M78.75,-279.00L671.75,314.00M78.75,-270.60L671.75,322.40M78.75,-262.20L671.75,330.80M78.75,-253.80L671.75,339.20M78.75,-245.40L671.75,347.60M78.75,-237.00L671.75,356.00M78.75,-228.60L671.75,364.40M78.75,-220.20L671.75,372.80M78.75,-211.80L671.75,381.20M78.75,-203.40L671.75,389.60M78.75,-195.00L671.75,398.00M78.75,-186.60L671.75,406.40M78.75,-178.20L671.75,414.80M78.75,-169.80L671.75,423.20M78.75,-161.40L671.75,431.60M78.75,-153.00L671.75,440.00M78.75,-144.60L671.75,448.40M78.75,-136.20L671.75,456.80M78.75,-127.80L671.75,465.20M78.75,-119.40L671.75,473.60M78.75,-111.00L671.75,482.00M78.75,-102.60L671.75,490.40M78.75,-94.20L671.75,498.80M78.75,-85.80L671.75,507.20M78.75,-77.40L671.75,515.60M78.75,-69.00L671.75,524.00M78.75,-60.60L671.75,532.40M78.75,-52.20L671.75,540.80M78.75,-43.80L671.75,549.20M78.75,-35.40L671.75,557.60M78.75,-27.00L671.75,566.00M78.75,-18.60L671.75,574.40M78.75,-10.20L671.75,582.80M78.75,-1.80L671.75,591.20M78.75,6.60L671.75,599.60M78.75,15.00L671.75,608.00M78.75,23.40L671.75,616.40M78.75,31.80L671.75,624.80M78.75,40.20L671.75,633.20M78.75,48.60L671.75,641.60M78.75,57.00L671.75,650.00M78.75,65.40L671.75,658.40M78.75,73.80L671.75,666.80M78.75,82.20L671.75,675.20M78.75,90.60L671.75,683.60M78.75,99.00L671.75,692.00M78.75,107.40L671.75,700.40M78.75,115.80L671.75,708.80M78.75,124.20L671.75,717.20M78.75,132.60L671.75,725.60M78.75,141.00L671.75,734.00M78.75,149.40L671.75,742.40M78.75,157.80L671.75,750.80M78.75,166.20L671.75,759.20M78.75,174.60L671.75,767.60M78.75,183.00L671.75,776.00M78.75,191.40L671.75,784.40M78.75,199.80L671.75,792.80M78.75,208.20L671.75,801.20M78.75,216.60L671.75,809.60M78.75,225.00L671.75,818.00M78.75,233.40L671.75,826.40M78.75,241.80L671.75,834.80M78.75,250.20L671.75,843.20M78.75,258.60L671.75,851.60M78.75,267.00L671.75,860.00M78.75,275.40L671.75,868.40M78.75,283.80L671.75,876.80M78.75,292.20L671.75,885.20M78.75,300.60L671.75,893.60M78.75,309.00L671.75,902.00M78.75,317.40L671.75,910.40M78.75,325.80L671.75,918.80M78.75,334.20L671.75,927.20M78.75,342.60L671.75,935.60M78.75,351.00L671.75,944.00M78.75,359.40L671.75,952.40M78.75,367.80L671.75,960.80M78.75,376.20L671.75,969.20M78.75,384.60L671.75,977.60M78.75,393.00L671.75,986.00M78.75,401.40L671.75,994.40M78.75,409.80L671.75,1002.80M78.75,418.20L671.75,1011.20M78.75,426.60L671.75,1019.60M78.75,435.00L671.75,1028.00M78.75,443.40L671.75,1036.40M78.75,451.80L671.75,1044.80M78.75,460.20L671.75,1053.20M78.75,468.60L671.75,1061.60M78.75,477.00L671.75,1070.00M78.75,485.40L671.75,1078.40M78.75,493.80L671.75,1086.80M78.75,502.20L671.75,1095.20M78.75,510.60L671.75,1103.60M78.75,519.00L671.75,1112.00M78.75,527.40L671.75,1120.40M78.75,535.80L671.75,1128.80M78.75,544.20L671.75,1137.20M78.75,552.60L671.75,1145.60M78.75,561.00L671.75,1154.00M78.75,569.40L671.75,1162.40M78.75,577.80L671.75,1170.80M78.75,586.20L671.75,1179.20" fill="none" stroke="#ff3515" stroke-width="0.95"/><path d="M78.75,9.93L671.75,-583.07M78.75,18.32L671.75,-574.68M78.75,26.71L671.75,-566.29M78.75,35.10L671.75,-557.90M78.75,43.49L671.75,-549.51M78.75,51.88L671.75,-541.12M78.75,60.27L671.75,-532.73M78.75,68.66L671.75,-524.34M78.75,77.05L671.75,-515.95M78.75,85.44L671.75,-507.56M78.75,93.83L671.75,-499.17M78.75,102.22L671.75,-490.78M78.75,110.61L671.75,-482.39M78.75,119.00L671.75,-474.00M78.75,127.39L671.75,-465.61M78.75,135.78L671.75,-457.22M78.75,144.17L671.75,-448.83M78.75,152.56L671.75,-440.44M78.75,160.95L671.75,-432.05M78.75,169.34L671.75,-423.66M78.75,177.73L671.75,-415.27M78.75,186.12L671.75,-406.88M78.75,194.51L671.75,-398.49M78.75,202.90L671.75,-390.10M78.75,211.29L671.75,-381.71M78.75,219.68L671.75,-373.32M78.75,228.07L671.75,-364.93M78.75,236.46L671.75,-356.54M78.75,244.85L671.75,-348.15M78.75,253.24L671.75,-339.76M78.75,261.63L671.75,-331.37M78.75,270.02L671.75,-322.98M78.75,278.41L671.75,-314.59M78.75,286.80L671.75,-306.20M78.75,295.19L671.75,-297.81M78.75,303.58L671.75,-289.42M78.75,311.97L671.75,-281.03M78.75,320.36L671.75,-272.64M78.75,328.75L671.75,-264.25M78.75,337.14L671.75,-255.86M78.75,345.53L671.75,-247.47M78.75,353.92L671.75,-239.08M78.75,362.31L671.75,-230.69M78.75,370.70L671.75,-222.30M78.75,379.09L671.75,-213.91M78.75,387.48L671.75,-205.52M78.75,395.87L671.75,-197.13M78.75,404.26L671.75,-188.74M78.75,412.65L671.75,-180.35M78.75,421.04L671.75,-171.96M78.75,429.43L671.75,-163.57M78.75,437.82L671.75,-155.18M78.75,446.21L671.75,-146.79M78.75,454.60L671.75,-138.40M78.75,462.99L671.75,-130.01M78.75,471.38L671.75,-121.62M78.75,479.77L671.75,-113.23M78.75,488.16L671.75,-104.84M78.75,496.55L671.75,-96.45M78.75,504.94L671.75,-88.06M78.75,513.33L671.75,-79.67M78.75,521.72L671.75,-71.28M78.75,530.11L671.75,-62.89M78.75,538.50L671.75,-54.50M78.75,546.89L671.75,-46.11M78.75,555.28L671.75,-37.72M78.75,563.67L671.75,-29.33M78.75,572.06L671.75,-20.94M78.75,580.45L671.75,-12.55M78.75,588.84L671.75,-4.16M78.75,597.23L671.75,4.23M78.75,605.62L671.75,12.62M78.75,614.01L671.75,21.01M78.75,622.40L671.75,29.40M78.75,630.79L671.75,37.79M78.75,639.18L671.75,46.18M78.75,647.57L671.75,54.57M78.75,655.96L671.75,62.96M78.75,664.35L671.75,71.35M78.75,672.74L671.75,79.74M78.75,681.13L671.75,88.13M78.75,689.52L671.75,96.52M78.75,697.91L671.75,104.91M78.75,706.30L671.75,113.30M78.75,714.69L671.75,121.69M78.75,723.08L671.75,130.08M78.75,731.47L671.75,138.47M78.75,739.86L671.75,146.86M78.75,748.25L671.75,155.25M78.75,756.64L671.75,163.64M78.75,765.03L671.75,172.03M78.75,773.42L671.75,180.42M78.75,781.81L671.75,188.81M78.75,790.20L671.75,197.20M78.75,798.59L671.75,205.59M78.75,806.98L671.75,213.98M78.75,815.37L671.75,222.37M78.75,823.76L671.75,230.76M78.75,832.15L671.75,239.15M78.75,840.54L671.75,247.54M78.75,848.93L671.75,255.93M78.75,857.32L671.75,264.32M78.75,865.71L671.75,272.71M78.75,874.10L671.75,281.10M78.75,882.49L671.75,289.49M78.75,890.88L671.75,297.88M78.75,899.27L671.75,306.27M78.75,907.66L671.75,314.66M78.75,916.05L671.75,323.05M78.75,924.44L671.75,331.44M78.75,932.83L671.75,339.83M78.75,941.22L671.75,348.22M78.75,949.61L671.75,356.61M78.75,958.00L671.75,365.00M78.75,966.39L671.75,373.39M78.75,974.78L671.75,381.78M78.75,983.17L671.75,390.17M78.75,991.56L671.75,398.56M78.75,999.95L671.75,406.95M78.75,1008.34L671.75,415.34M78.75,1016.73L671.75,423.73M78.75,1025.12L671.75,432.12M78.75,1033.51L671.75,440.51M78.75,1041.90L671.75,448.90M78.75,1050.29L671.75,457.29M78.75,1058.68L671.75,465.68M78.75,1067.07L671.75,474.07M78.75,1075.46L671.75,482.46M78.75,1083.85L671.75,490.85M78.75,1092.24L671.75,499.24M78.75,1100.63L671.75,507.63M78.75,1109.02L671.75,516.02M78.75,1117.41L671.75,524.41M78.75,1125.80L671.75,532.80M78.75,1134.19L671.75,541.19M78.75,1142.58L671.75,549.58M78.75,1150.97L671.75,557.97M78.75,1159.36L671.75,566.36M78.75,1167.75L671.75,574.75M78.75,1176.14L671.75,583.14" fill="none" stroke="#ff3515" stroke-width="0.95"/></g>
<text x="307.8" y="52.6" font-size="20" class="u">Λ</text><text x="320.8" y="52.6" font-size="20">CDM</text><text x="376.4" y="52.6" font-size="20" class="u">Ω</text><text x="391.7" y="58.4" font-size="14" class="u">Λ</text><text x="402.5" y="52.6" font-size="20">=0.69,</text><text x="459.6" y="52.6" font-size="20" class="u">Ω</text><text x="474.2" y="58.4" font-size="14">M</text><text x="486.6" y="52.6" font-size="20">=0.31,</text><text x="546.4" y="52.6" font-size="20" class="u">Ω</text><text x="560.3" y="58.4" font-size="14">R</text><text x="569.2" y="52.6" font-size="20">=0</text>
<text x="308.3" y="95.6" font-size="20" textLength="78.8" lengthAdjust="spacingAndGlyphs">This work</text><text x="398.1" y="95.6" font-size="20" class="u">Ω</text><text x="412.6" y="101.39999999999999" font-size="14" class="u">Λ</text><text x="422.6" y="95.6" font-size="20">=0,</text><text x="455.1" y="95.6" font-size="20" class="u">Ω</text><text x="470" y="101.39999999999999" font-size="14">M</text><text x="482.2" y="95.6" font-size="20">=1,</text><text x="517.6" y="95.6" font-size="20" class="u">Ω</text><text x="531.5" y="101.39999999999999" font-size="14">R</text><text x="540.5" y="95.6" font-size="20">=0</text>
<circle cx="124.65" cy="460.7" r="8.4" fill="#ff42f3"/>
<rect x="116.4" y="474.7" width="16.5" height="16.2" fill="#0a0a0a"/>
<polygon points="116.3,496.5 133,496.5 124.65,512.1" fill="#2bff4d"/>
<polygon points="116.3,534.8 133,534.8 124.65,518.8" fill="#ff3318"/>
<polygon points="124.80,540.50 126.66,546.23 132.69,546.24 127.82,549.78 129.68,555.51 124.80,551.97 119.92,555.51 121.78,549.78 116.91,546.24 122.94,546.23" fill="#1a3cff"/>
<text x="157.2" y="467.5" font-size="20">Reiss et al<tspan dx="1.3">.</tspan></text>
<text x="157.2" y="489.5" font-size="20">Suzuki et al<tspan dx="1.3">.</tspan></text>
<text x="157.2" y="511.5" font-size="20">Kowalski et al<tspan dx="1.3">.</tspan></text>
<text x="157.2" y="533.5" font-size="20">Conley et al<tspan dx="1.3">.</tspan></text>
<text x="157.2" y="555.2" font-size="20">Schaefer et al<tspan dx="1.3">.</tspan></text>
</svg></body></html>
